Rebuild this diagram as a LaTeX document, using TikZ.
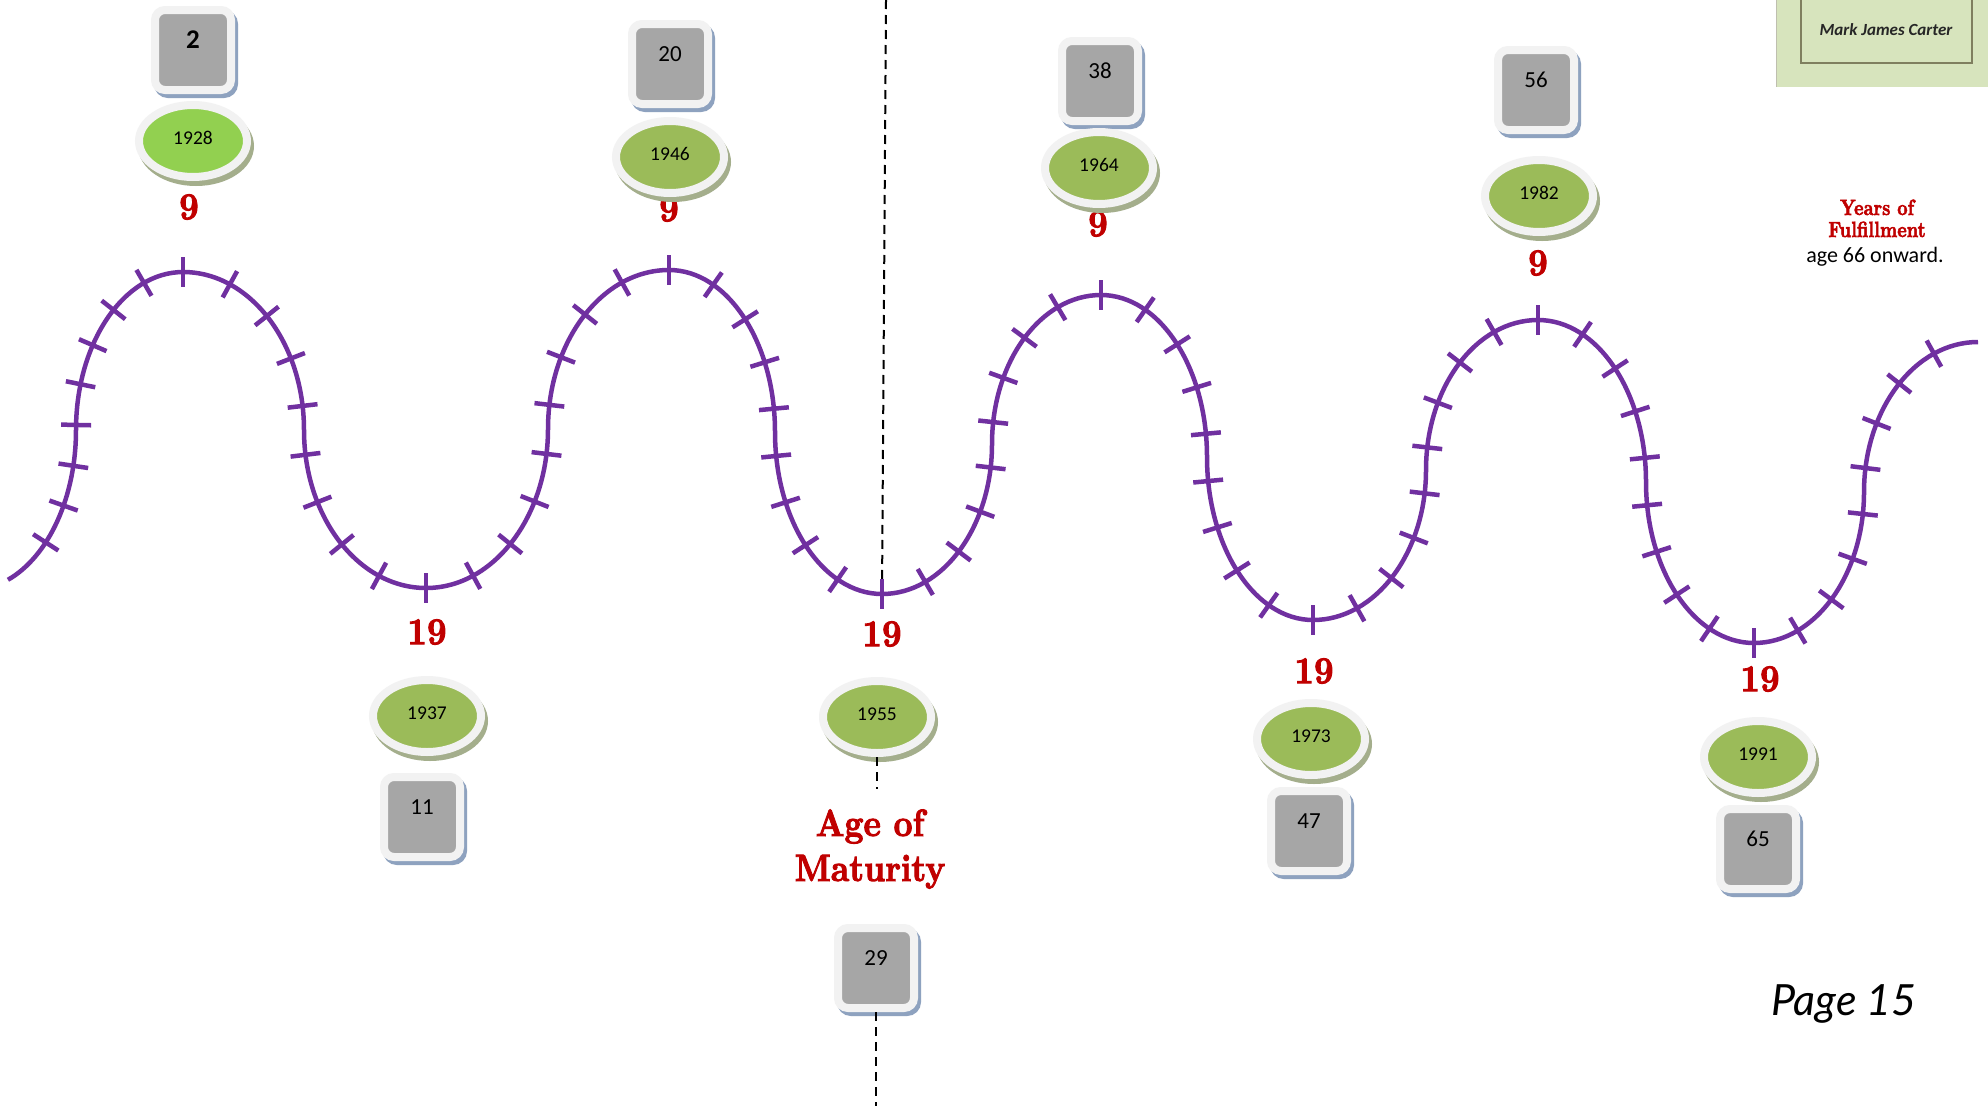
\documentclass[tikz,border=0pt]{standalone}
\usepackage{fontspec}
\usetikzlibrary{shapes.geometric,decorations.markings,shadows}
\newfontfamily\calfont{Carlito}
\newfontfamily\latofont{Lato}
\newfontfamily\heavyfont[FakeBold=2.5]{lmroman10-bold.otf}
\definecolor{wavepurple}{HTML}{7030A0}
\definecolor{labred}{HTML}{C00000}
\definecolor{boxgray}{HTML}{A6A6A6}
\definecolor{framewhite}{HTML}{F2F2F2}
\definecolor{shadowblue}{HTML}{8EA2BF}
\definecolor{oliv}{HTML}{9BBB59}
\definecolor{brightgreen}{HTML}{92D050}
\definecolor{shadowolive}{HTML}{A4AE8C}
\definecolor{panelgreen}{HTML}{D7E4BD}
\definecolor{panelline}{HTML}{7F7F5F}
\newcommand\wavetick{\draw[tickline] (0,-15) -- (0,15);}
\begin{document}
\begin{tikzpicture}[x=1pt,y=1pt,
  wave/.style={draw=wavepurple, line width=4.5pt},
  tickline/.style={draw=wavepurple, line width=4.5pt},
  tickmarks/.style={postaction={decorate, decoration={markings,
      mark=between positions 0.1111 and 0.95 step 0.1111 with {\wavetick}}}},
  firstticks/.style={postaction={decorate, decoration={markings,
      mark=at position 41pt with {\wavetick},
      mark=at position 82pt with {\wavetick},
      mark=at position 123pt with {\wavetick},
      mark=at position 164pt with {\wavetick},
      mark=at position 205pt with {\wavetick},
      mark=at position 246pt with {\wavetick},
      mark=at position 287pt with {\wavetick},
      mark=at position 328pt with {\wavetick}}}},
  agebox/.style={rectangle, rounded corners=10pt, fill=boxgray, draw=framewhite,
      line width=8pt, minimum width=76pt, minimum height=80pt, inner sep=0pt,
      text depth=20pt, text=black, font=\calfont\fontsize{23}{27}\selectfont,
      drop shadow={shadow xshift=3pt, shadow yshift=-4pt, fill=shadowblue,
      draw=shadowblue, line width=8pt, opacity=1}},
  yearell/.style={ellipse, fill=oliv, draw=framewhite, line width=8pt,
      minimum width=108pt, minimum height=72pt, inner sep=0pt, text=black,
      text depth=6pt, font=\calfont\fontsize{19.5}{23}\selectfont,
      drop shadow={shadow xshift=3pt, shadow yshift=-5pt, fill=shadowolive,
      draw=shadowolive, line width=8pt, opacity=1}},
  cyclab/.style={text=labred, font=\heavyfont\fontsize{38}{45}\selectfont,
      xscale=0.9, inner sep=0pt},
  redhead/.style={text=labred, font=\heavyfont\fontsize{22}{22}\selectfont,
      xscale=0.82, inner sep=0pt, anchor=base},
  dashline/.style={draw=black, line width=2pt, dash pattern=on 9pt off 6pt},
]
\useasboundingbox (0,0) rectangle (1988,-1106);
\fill[white] (0,0) rectangle (1988,-1106);

% top-right panel
\fill[panelgreen] (1776,0) rectangle (1988,-87);
\draw[panelline!50, line width=1pt] (1776.5,0) -- (1776.5,-87);
\draw[panelline, line width=2pt] (1801,10) rectangle (1972,-63);
\node[font=\calfont\bfseries\itshape\fontsize{17}{20}\selectfont, text=black!85] (author) at (1886,-30) {Mark James Carter};

% wave coordinates
\coordinate (S) at (7.94,-579.8);
\coordinate (P1) at (183,-272);
\coordinate (T1) at (426,-588);
\coordinate (P2) at (669,-270);
\coordinate (T2) at (882,-594);
\coordinate (P3) at (1101,-295);
\coordinate (T3) at (1313,-620);
\coordinate (P4) at (1538,-320);
\coordinate (T4) at (1754,-643);
\coordinate (P5) at (1978,-342);
\coordinate (dtop) at (886,0);
\coordinate (dbot) at (876,-1106);

% dashed divider (top part)
\draw[dashline] (dtop) -- (T2);

% wave
\draw[wave] (S) arc[start angle=-69.4, end angle=0, x radius=105, y radius=160]
  arc[start angle=180, end angle=90, x radius=107, y radius=158];
\path[firstticks] (P1) arc[start angle=90, end angle=180, x radius=107, y radius=158]
  arc[start angle=0, end angle=-69.4, x radius=105, y radius=160];
\draw[wave,tickmarks] (P1) arc[start angle=90,end angle=0,x radius=121,y radius=158]
  arc[start angle=180,end angle=270,x radius=122,y radius=158];
\draw[wave,tickmarks] (T1) arc[start angle=270,end angle=360,x radius=122,y radius=159]
  arc[start angle=180,end angle=90,x radius=121,y radius=159];
\draw[wave,tickmarks] (P2) arc[start angle=90,end angle=0,x radius=106,y radius=162]
  arc[start angle=180,end angle=270,x radius=107,y radius=162];
\draw[wave,tickmarks] (T2) arc[start angle=270,end angle=360,x radius=110,y radius=150]
  arc[start angle=180,end angle=90,x radius=109,y radius=149];
\draw[wave,tickmarks] (P3) arc[start angle=90,end angle=0,x radius=106,y radius=162]
  arc[start angle=180,end angle=270,x radius=106,y radius=163];
\draw[wave,tickmarks] (T3) arc[start angle=270,end angle=360,x radius=113,y radius=150]
  arc[start angle=180,end angle=90,x radius=112,y radius=150];
\draw[wave,tickmarks] (P4) arc[start angle=90,end angle=0,x radius=108,y radius=162]
  arc[start angle=180,end angle=270,x radius=108,y radius=161];
\draw[wave,tickmarks] (T4) arc[start angle=270,end angle=360,x radius=110,y radius=151]
  arc[start angle=180,end angle=90,x radius=114,y radius=150];
\foreach \p in {P1,T1,P2,T2,P3,T3,P4,T4}
  \draw[tickline] (\p) ++(0,15) -- ++(0,-30);

% cycle labels
\node[cyclab] (n1) at (189,-207) {9};
\node[cyclab] (n2) at (669,-209) {9};
\node[cyclab] (n3) at (1098,-224) {9};
\node[cyclab] (n4) at (1538,-263) {9};
\node[cyclab] (m1) at (427,-632) {19};
\node[cyclab] (m2) at (882,-634) {19};
\node[cyclab] (m3) at (1314,-671) {19};
\node[cyclab] (m4) at (1760,-679) {19};

% age boxes
\node[agebox, font=\calfont\bfseries\fontsize{27}{30}\selectfont] (b2) at (193,-50) {2};
\node[agebox] (b20) at (670,-64) {20};
\node[agebox] (b38) at (1100,-81) {38};
\node[agebox] (b56) at (1536,-90) {56};
\node[agebox] (b11) at (422,-817) {11};
\node[agebox] (b29) at (876,-968) {29};
\node[agebox] (b47) at (1309,-831) {47};
\node[agebox] (b65) at (1758,-849) {65};

% year ellipses
\node[yearell, fill=brightgreen] (e1928) at (193,-141) {1928};
\node[yearell] (e1946) at (670,-157) {1946};
\node[yearell] (e1964) at (1099,-168) {1964};
\node[yearell] (e1982) at (1539,-196) {1982};
\node[yearell] (e1937) at (427,-716) {1937};
\node[yearell] (e1955) at (877,-717) {1955};
\node[yearell] (e1973) at (1311,-739) {1973};
\node[yearell] (e1991) at (1758,-757) {1991};

% age of maturity
\node[text=labred, font=\heavyfont\fontsize{38}{45}\selectfont, align=center,
  xscale=0.87, inner xsep=0pt, inner ysep=20pt] (age) at (870,-849) {Age of\\Maturity};
\draw[dashline] (e1955.south) -- (e1955.south |- age.north);
\draw[dashline] (b29.south) -- (dbot);

% fulfillment text
\node[redhead] (yrs1) at (1877,-215) {Years of};
\node[redhead] (yrs2) at (1877,-237) {Fulfillment};
\node[anchor=base, inner sep=0pt, font=\calfont\fontsize{22}{26}\selectfont] (onward) at (1875,-262) {age 66 onward.};

% page number
\node[anchor=base, inner sep=0pt, font=\latofont\itshape\fontsize{43}{47}\selectfont] (page) at (1844,-1015) {Page 15};
\end{tikzpicture}
\end{document}
